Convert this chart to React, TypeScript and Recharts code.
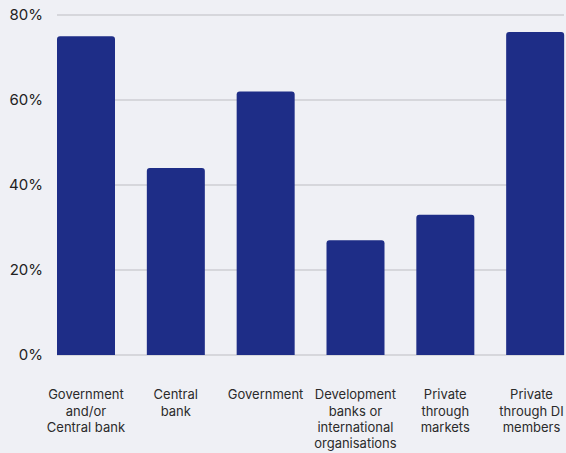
import React from "react";
import { BarChart, Bar, XAxis, YAxis, CartesianGrid } from "recharts";

const categories = [
  "Government and/or Central bank",
  "Central bank",
  "Government",
  "Development banks or international organisations",
  "Private through markets",
  "Private through DI members",
];
const labelLines = [
  ["Government", "and/or", "Central bank"],
  ["Central", "bank"],
  ["Government"],
  ["Development", "banks or", "international", "organisations"],
  ["Private", "through", "markets"],
  ["Private", "through DI", "members"],
];
const values = [75, 44, 62, 27, 33, 76];
const yTicks = [0, 20, 40, 60, 80];

const CHART_W = 566;
const CHART_H = 453;

const data = categories.map((name, i) => ({ name, value: values[i] }));

const LabelTick = (props: any) => {
  const { x, y, index } = props;
  const lines: string[] = labelLines[index] || [];
  const maxChars = Math.max(...lines.map((l) => l.length));
  const halfW = (maxChars * 6.4) / 2;
  const cx = Math.min(x, CHART_W - 2.5 - halfW);
  return (
    <g transform={`translate(${cx},${y})`}>
      <text textAnchor="middle" fill="#2b2b2b" fontSize={13} fontFamily="Inter, sans-serif">
        {lines.map((l, i) => (
          <tspan key={i} x={0} dy={i === 0 ? "0.71em" : 16.4}>
            {l}
          </tspan>
        ))}
      </text>
    </g>
  );
};

export default function App() {
  return (
    <div
      style={{
        position: "fixed",
        left: 0,
        top: 0,
        width: CHART_W,
        height: CHART_H,
        background: "#eff0f5",
        overflow: "hidden",
      }}
    >
      <BarChart width={CHART_W} height={CHART_H} data={data} margin={{ top: 15, right: 2, bottom: 0, left: 0 }}>
        <CartesianGrid vertical={false} stroke="#bdbdc2" strokeWidth={1} />
        <XAxis
          dataKey="name"
          axisLine={false}
          tickLine={false}
          tickSize={0}
          tickMargin={35}
          height={98}
          interval={0}
          padding={{ left: -16, right: -16 }}
          tick={<LabelTick />}
        />
        <YAxis
          domain={[0, 80]}
          ticks={yTicks}
          tickFormatter={(v: number) => `${v}%`}
          axisLine={false}
          tickLine={false}
          tickSize={6}
          tickMargin={8}
          width={57}
          tick={{ fill: "#222", fontSize: 15, fontFamily: "Inter, sans-serif" }}
        />
        <Bar dataKey="value" fill="#1e2d87" barSize={58} radius={[3, 3, 0, 0]} isAnimationActive={false} />
      </BarChart>
    </div>
  );
}
